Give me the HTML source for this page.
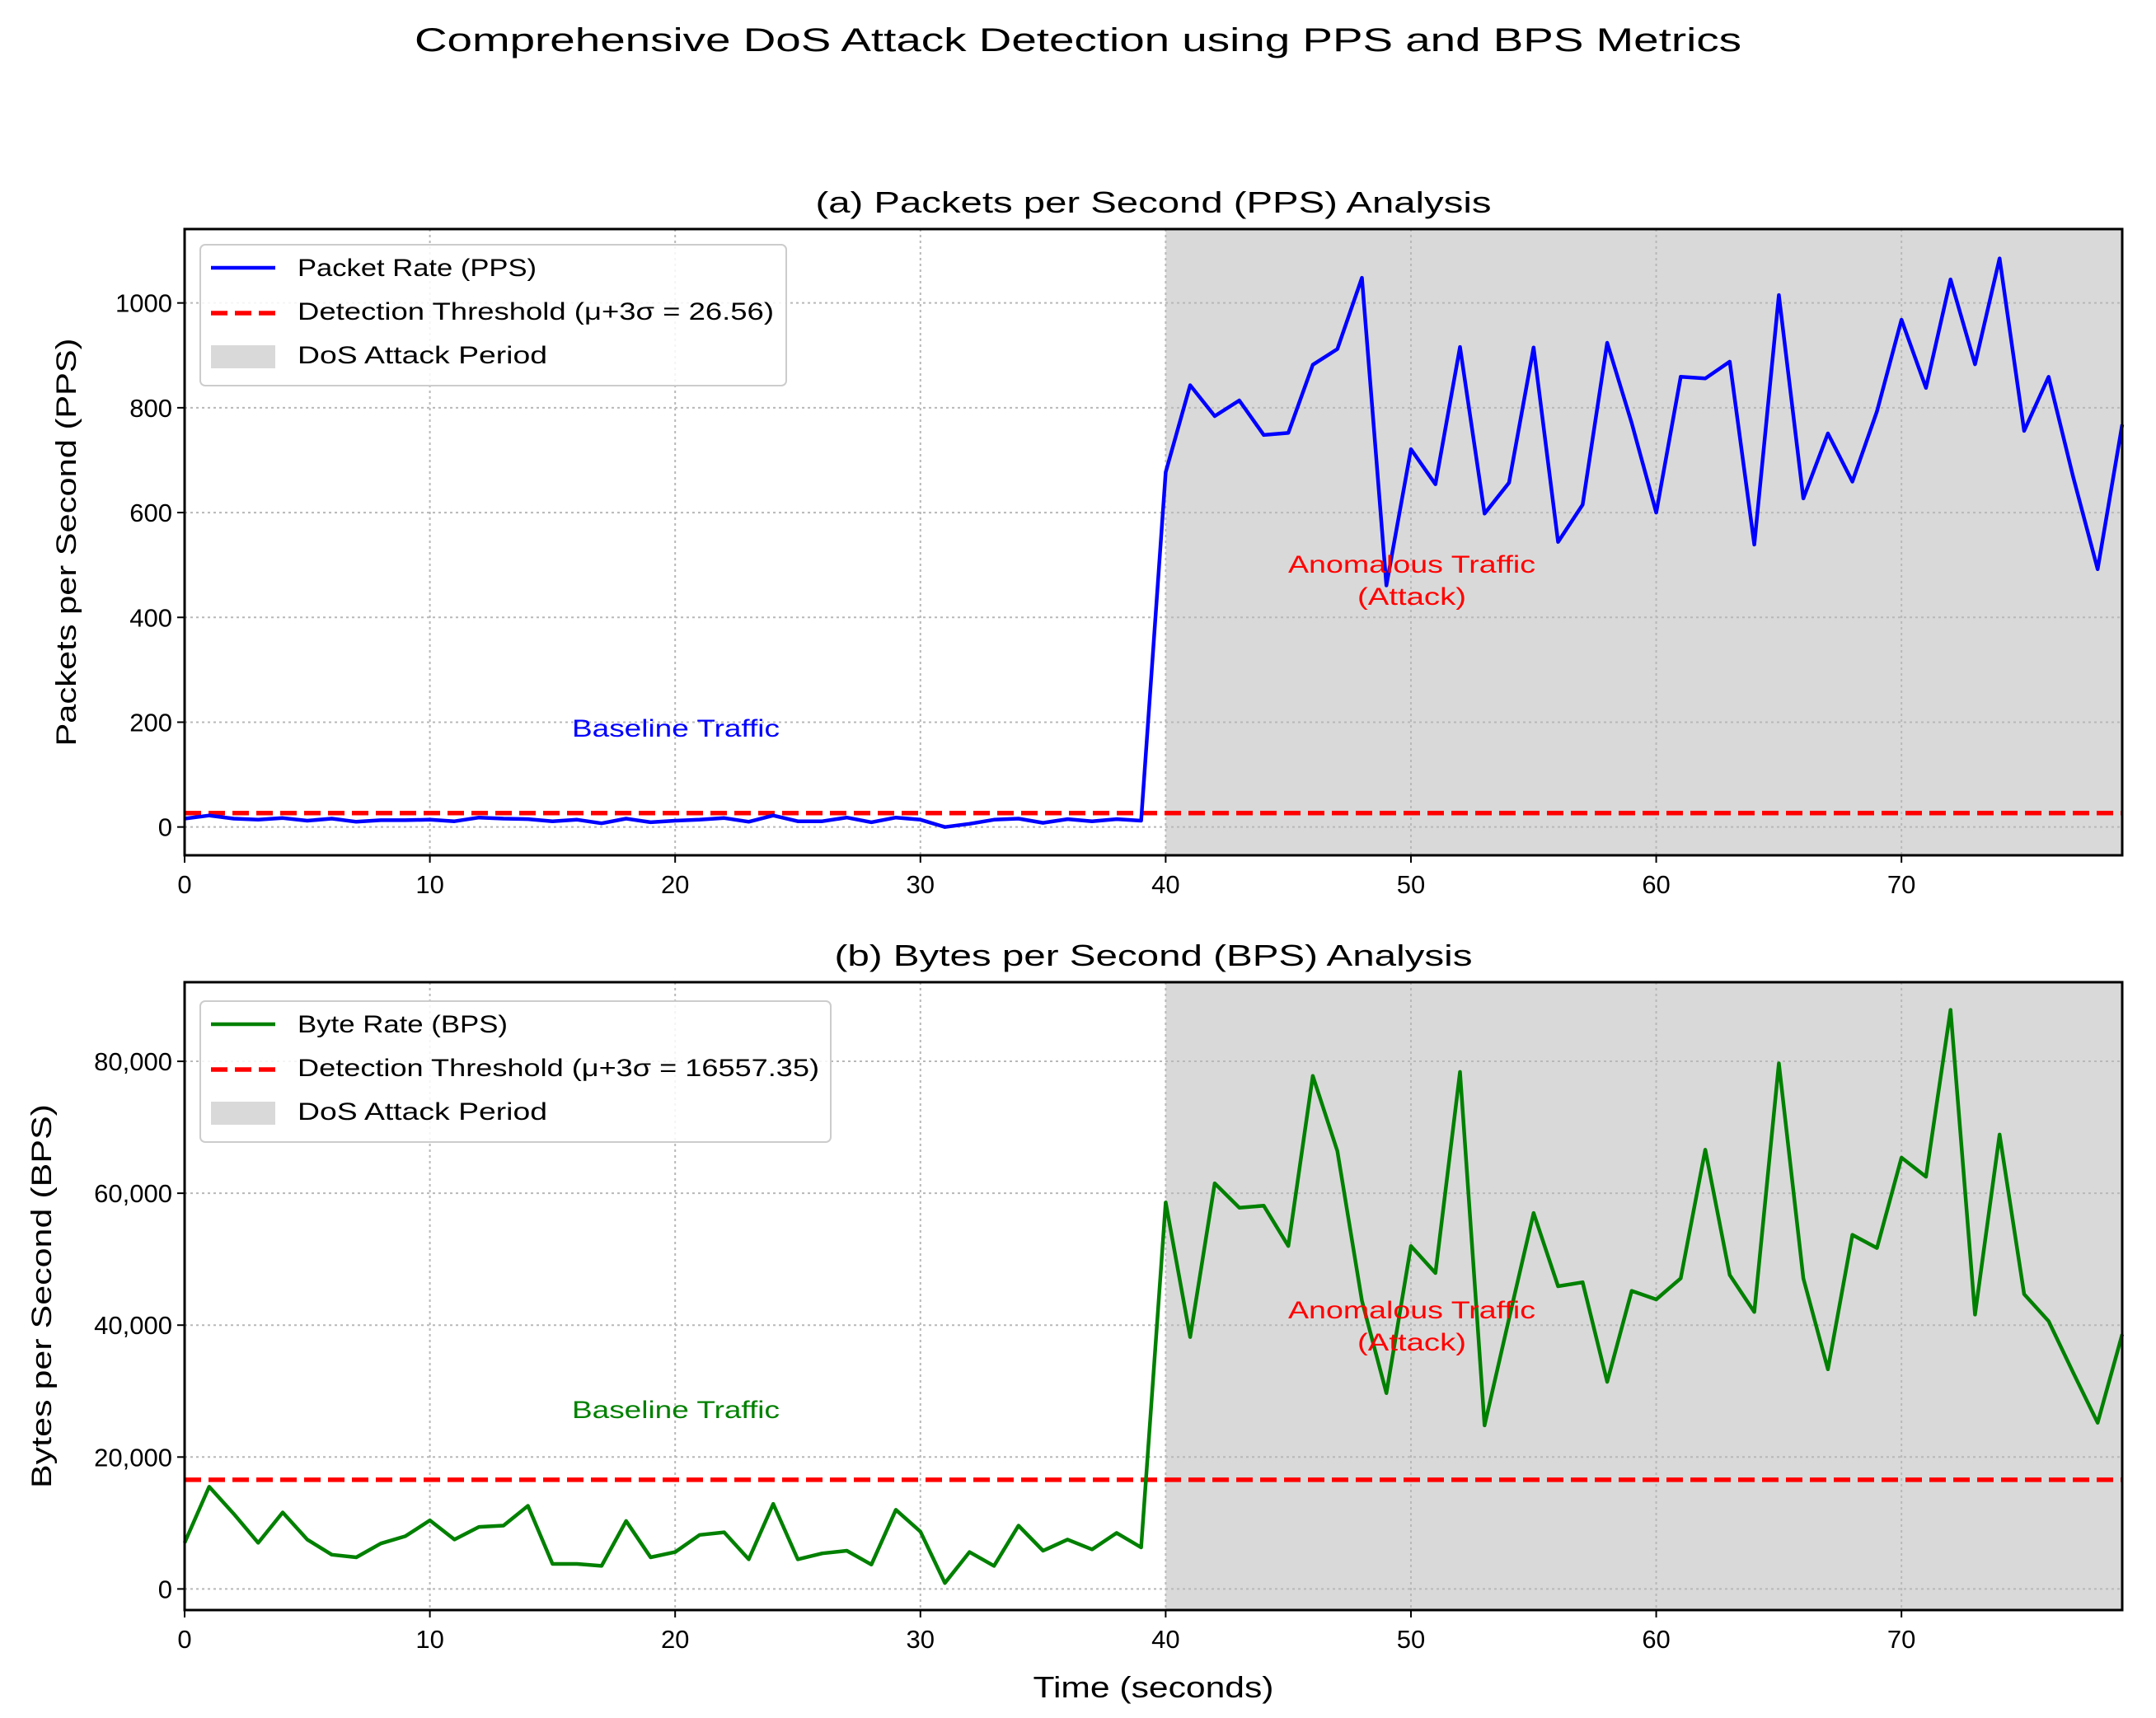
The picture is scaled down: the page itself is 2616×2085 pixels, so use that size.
<!DOCTYPE html>
<html><head><meta charset="utf-8">
<style>
html,body{margin:0;padding:0;background:#fff;}
svg{display:block;font-family:"Liberation Sans",sans-serif;}
</style></head>
<body>
<svg id="chart" width="2616" height="2085" viewBox="0 0 2616 2085" xmlns="http://www.w3.org/2000/svg">
<text x="1308" y="62" text-anchor="middle" font-size="40" textLength="1610" lengthAdjust="spacingAndGlyphs">Comprehensive DoS Attack Detection using PPS and BPS Metrics</text>
</svg>
<script>
const timeSeconds = Array.from({length: 80}, (_, i) => i);
const ppsValues = [16,22,16,14,17,12,16,10,13,13,14,11,18,16,15,11,14,7,16,9,12,14,17,10,22,11,11,18,9,18,14,0,6,14,16,8,15,11,15,12,
677,843,784,814,748,752,882,912,1048,461,721,654,916,598,657,915,544,615,924,771,600,859,856,888,539,1015,627,751,659,793,968,838,1045,883,1085,756,859,668,492,768];
const bpsValues = [7000,15500,11400,7000,11600,7500,5200,4800,6900,8000,10400,7500,9400,9600,12600,3800,3800,3500,10300,4800,5600,8200,8600,4500,12900,4500,5400,5800,3700,12000,8700,900,5600,3500,9600,5800,7500,6000,8500,6300,
58600,38200,61500,57800,58100,52000,77800,66400,43700,29700,52000,47900,78400,24800,41000,57000,45900,46500,31400,45200,43900,47100,66600,47600,42000,79700,47100,33300,53700,51700,65400,62500,87800,41600,68900,44700,40600,32800,25200,38600];
const xTicks = [0,10,20,30,40,50,60,70];
const ppsTicks = [0,200,400,600,800,1000];
const bpsTicks = [0,20000,40000,60000,80000];
const ppsThreshold = 26.56;
const bpsThreshold = 16557.35;
const attackStart = 40;

const NS = "http://www.w3.org/2000/svg";
const svg = document.getElementById('chart');
function mk(tag, attrs, parent) {
  const e = document.createElementNS(NS, tag);
  for (const k in attrs) e.setAttribute(k, attrs[k]);
  (parent || svg).appendChild(e);
  return e;
}
const L = 224, R = 2575;
const xMin = 0, xMax = 79;
function xs(v) { return L + (v - xMin) / (xMax - xMin) * (R - L); }

function panel(cfg) {
  const g = mk('g', {});
  
  
  const ys = v => cfg.bottom - (v - cfg.yMin) / (cfg.yMax - cfg.yMin) * (cfg.bottom - cfg.top);
  const sh = mk('rect', {x: xs(attackStart), y: cfg.top, width: R - xs(attackStart), height: cfg.bottom - cfg.top, fill: '#d9d9d9'}, g);
  
  
  xTicks.forEach(t => {
    const gl = mk('line', {x1: xs(t), x2: xs(t), y1: cfg.top, y2: cfg.bottom, stroke: '#b8b8b8', 'stroke-width': 2, 'stroke-dasharray': '3,4'}, g);
    
    
    const tk = mk('line', {x1: xs(t), x2: xs(t), y1: cfg.bottom, y2: cfg.bottom + 9, stroke: '#000', 'stroke-width': 2}, g);
    
    
    const tl = mk('text', {x: xs(t), y: cfg.bottom + 46, 'text-anchor': 'middle', 'font-size': 31}, g);
    tl.textContent = t;
    
    
  });
  cfg.ticks.forEach(t => {
    const gl = mk('line', {x1: L, x2: R, y1: ys(t), y2: ys(t), stroke: '#b8b8b8', 'stroke-width': 2, 'stroke-dasharray': '3,4'}, g);
    
    
    const tk = mk('line', {x1: L - 9, x2: L, y1: ys(t), y2: ys(t), stroke: '#000', 'stroke-width': 2}, g);
    
    
    const tl = mk('text', {x: L - 15, y: ys(t) + 11, 'text-anchor': 'end', 'font-size': 31}, g);
    tl.textContent = cfg.fmt(t);
    
    
  });
  const th = mk('line', {x1: L, x2: R, y1: ys(cfg.threshold), y2: ys(cfg.threshold), stroke: '#ff0000', 'stroke-width': 5.5, 'stroke-dasharray': '20,9'}, g);
  
  
  const pts = timeSeconds.map((t, i) => xs(t).toFixed(1) + ',' + ys(cfg.values[i]).toFixed(1)).join(' ');
  const pl = mk('polyline', {points: pts, fill: 'none', stroke: cfg.color, 'stroke-width': 4.5, 'stroke-linejoin': 'round'}, g);
  
  
  const fr = mk('rect', {x: L, y: cfg.top, width: R - L, height: cfg.bottom - cfg.top, fill: 'none', stroke: '#000', 'stroke-width': 3}, g);
  
  
  const ti = mk('text', {x: (L + R) / 2, y: cfg.top - 20, 'text-anchor': 'middle', 'font-size': 36, textLength: cfg.titleLen, lengthAdjust: 'spacingAndGlyphs'}, g);
  ti.textContent = cfg.title;
  
  
  const cy = (cfg.top + cfg.bottom) / 2;
  const yl = mk('text', {x: cfg.ylabX, y: cy, 'text-anchor': 'middle', 'font-size': 34, transform: 'rotate(-90 ' + cfg.ylabX + ' ' + cy + ')', textLength: cfg.ylabLen, lengthAdjust: 'spacingAndGlyphs'}, g);
  yl.textContent = cfg.ylabel;
  
  
  const a1 = mk('text', {x: 820, y: cfg.baseY, 'text-anchor': 'middle', 'font-size': 30, fill: cfg.color, textLength: 252, lengthAdjust: 'spacingAndGlyphs'}, g);
  a1.textContent = 'Baseline Traffic';
  
  
  const a2 = mk('text', {x: 1713, y: cfg.anomY, 'text-anchor': 'middle', 'font-size': 30, fill: '#ff0000', textLength: 300, lengthAdjust: 'spacingAndGlyphs'}, g);
  a2.textContent = 'Anomalous Traffic';
  
  
  const a3 = mk('text', {x: 1713, y: cfg.anomY + 39, 'text-anchor': 'middle', 'font-size': 30, fill: '#ff0000', textLength: 132, lengthAdjust: 'spacingAndGlyphs'}, g);
  a3.textContent = '(Attack)';
  
  
  const lg = mk('g', {}, g);
  
  
  mk('rect', {x: 243, y: cfg.legTop, width: cfg.legW, height: 171, rx: 6, fill: '#fff', 'fill-opacity': 0.85, stroke: '#cccccc', 'stroke-width': 2}, lg);
  const e0 = cfg.legTop + 28;
  const ln = mk('line', {x1: 256, x2: 334, y1: e0, y2: e0, stroke: cfg.color, 'stroke-width': 4.5}, lg);
  
  
  const ld = mk('line', {x1: 256, x2: 334, y1: e0 + 55, y2: e0 + 55, stroke: '#ff0000', 'stroke-width': 5.5, 'stroke-dasharray': '20,9'}, lg);
  
  
  const lr = mk('rect', {x: 256, y: e0 + 94, width: 78, height: 28, fill: '#d9d9d9'}, lg);
  
  
  [cfg.leg1, cfg.leg2, 'DoS Attack Period'].forEach((s, i) => {
    const t = mk('text', {x: 361, y: e0 + 10 + i * 53, 'font-size': 30, textLength: cfg.legLens[i], lengthAdjust: 'spacingAndGlyphs'}, lg);
    t.textContent = s;
    
    
  });
}

panel({name: 'pps-panel', top: 278, bottom: 1038, yMin: -54, yMax: 1141, ticks: ppsTicks, fmt: v => String(v),
  values: ppsValues, threshold: ppsThreshold, color: '#0000ff', seriesName: 'pps-line',
  title: '(a) Packets per Second (PPS) Analysis', titleLen: 820, ylabel: 'Packets per Second (PPS)', ylabX: 92, ylabLen: 495,
  baseY: 894, anomY: 695, legTop: 297, legW: 711, legLens: [290, 578, 303],
  leg1: 'Packet Rate (PPS)', leg2: 'Detection Threshold (\u03bc+3\u03c3 = 26.56)'});
panel({name: 'bps-panel', top: 1192, bottom: 1954, yMin: -3200, yMax: 92000, ticks: bpsTicks, fmt: v => v.toLocaleString('en-US'),
  values: bpsValues, threshold: bpsThreshold, color: '#008000', seriesName: 'bps-line',
  title: '(b) Bytes per Second (BPS) Analysis', titleLen: 774, ylabel: 'Bytes per Second (BPS)', ylabX: 62, ylabLen: 466,
  baseY: 1721, anomY: 1600, legTop: 1215, legW: 765, legLens: [255, 633, 303],
  leg1: 'Byte Rate (BPS)', leg2: 'Detection Threshold (\u03bc+3\u03c3 = 16557.35)'});

const xl = mk('text', {x: (L + R) / 2, y: 2060, 'text-anchor': 'middle', 'font-size': 36, textLength: 292, lengthAdjust: 'spacingAndGlyphs'});
xl.textContent = 'Time (seconds)';


</script>
</body></html>
